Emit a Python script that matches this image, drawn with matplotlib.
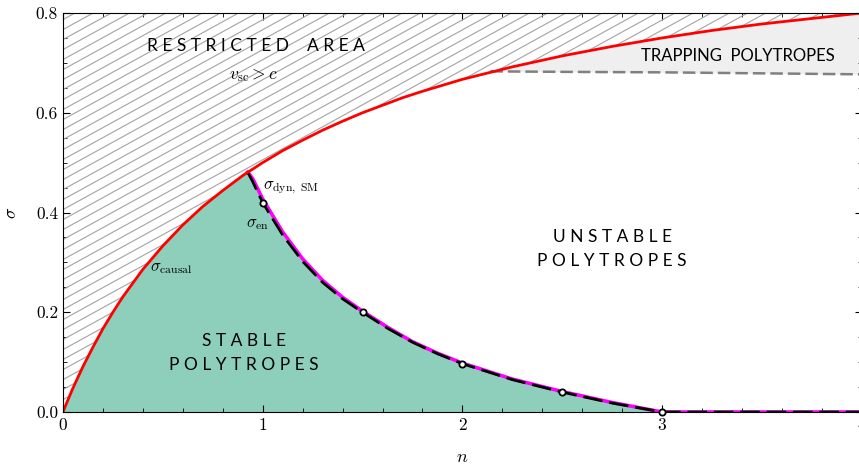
import matplotlib
matplotlib.use('Agg')
import matplotlib.pyplot as plt
from matplotlib.ticker import MultipleLocator, FormatStrFormatter
from matplotlib.patches import Polygon

# === Données
n_causal = [0, 0.02, 0.05, 0.1, 0.15, 0.2, 0.25, 0.3, 0.4, 0.5, 0.6, 0.7, 0.8, 0.9,
            1.0, 1.1, 1.2, 1.3, 1.4, 1.5, 1.6, 1.7, 1.8, 1.9, 2.0, 2.25, 2.5, 2.75,
            3.0, 3.25, 3.5, 3.75, 4.0]
sigma_causal = [0, 0.0196, 0.048, 0.091, 0.13, 0.167, 0.2, 0.231, 0.286, 0.333,
                0.375, 0.412, 0.444, 0.474, 0.5, 0.524, 0.545, 0.565, 0.583, 0.6,
                0.615, 0.63, 0.643, 0.655, 0.667, 0.692, 0.714, 0.733, 0.75, 0.765,
                0.778, 0.789, 0.8]

n_en = [0.925, 0.95, 1.0, 1.1, 1.2, 1.3, 1.4, 1.5, 1.625, 1.75, 1.875, 2.0, 2.25,
        2.5, 2.75, 3.0, 4.0]
sigma_en = [0.481, 0.462, 0.42, 0.355, 0.302, 0.26, 0.227, 0.2, 0.168, 0.14, 0.117,
            0.097, 0.065, 0.04, 0.018, 0.0, 0.0]
sigma_dyn = [0.481, 0.468, 0.427, 0.361, 0.307, 0.264, 0.23, 0.202, 0.170, 0.141,
             0.118, 0.098, 0.066, 0.041, 0.019, 0.0, 0.0]

n_points = [1.0, 1.5, 2.0, 2.5, 3.0]
sigma_points = [0.42, 0.2, 0.097, 0.04, 0.0]

n_trap = [2.14, 2.5, 3.0, 3.5, 4.0]
sigma_trap_low = [0.683, 0.682, 0.681, 0.679, 0.677]
sigma_trap_high = [0.681, 0.714, 0.75, 0.778, 0.8]

# zone stable : sous sigma_causal puis sous sigma_en
n_stable = n_causal[:14] + n_en[:-1]
sigma_stable = sigma_causal[:14] + sigma_en[:-1]

plt.rcParams['font.family'] = 'serif'
plt.rcParams['font.serif'] = ['cmr10']
plt.rcParams['mathtext.fontset'] = 'cm'
plt.rcParams['axes.formatter.use_mathtext'] = True

fig = plt.figure(figsize=(8.59, 4.69), dpi=100)
ax = fig.add_axes([0.0733, 0.1215, 0.930, 0.8508])

# === Zone interdite hachurée
zone = Polygon(list(zip(n_causal, sigma_causal)) + [(4, 0.8), (0, 0.8)],
               closed=True, facecolor='none', edgecolor='none')
ax.add_patch(zone)
pente = 0.55 * 799 / 399   # pente des hachures en coordonnées axes
k = -2.4
while k < 1.05:
    ligne, = ax.plot([0, 1], [k, k + pente], color='#a3a3a3', lw=0.8,
                     transform=ax.transAxes)
    ligne.set_clip_path(zone)
    k += 10 / 399

ax.fill_between(n_stable, sigma_stable, 0, color='#8dcfba', linewidth=0)
ax.fill_between(n_trap, sigma_trap_low, sigma_trap_high, color='#efefef', linewidth=0)

# === Courbes
ax.plot(n_trap, sigma_trap_low, color='#808080', lw=1.8, dashes=(5, 2))
ax.plot(n_en, sigma_dyn, color='magenta', lw=2.6)
ax.plot(n_en, sigma_en, color='black', lw=2.0, dashes=(7, 2.5))
ax.plot(n_causal, sigma_causal, color='red', lw=2.0)
ax.plot(n_points, sigma_points, 'o', ms=4.5, mfc='white', mec='black', mew=1.3,
        clip_on=False, zorder=5)

# === Textes
sans = 'Lato'
ax.text(0.965, 0.733, 'R E S T R I C T E D    A R E A', family=sans, fontsize=12.5,
        ha='center', va='center')
ax.text(0.955, 0.675, r'$v_{\rm sc} > c$', fontsize=12.5, ha='center', va='center')
ax.text(3.38, 0.713, 'TRAPPING  POLYTROPES', family=sans, fontsize=12,
        ha='center', va='center')
ax.text(2.75, 0.327, 'U N S T A B L E\nP O L Y T R O P E S', family=sans,
        fontsize=12.5, ha='center', va='center', linespacing=1.6)
ax.text(0.905, 0.118, 'S T A B L E\nP O L Y T R O P E S', family=sans,
        fontsize=12.5, ha='center', va='center', linespacing=1.6)
ax.text(0.435, 0.288, r'$\sigma_{\rm causal}$', fontsize=12, ha='left', va='center')
ax.text(0.915, 0.377, r'$\sigma_{\rm en}$', fontsize=12, ha='left', va='center')
ax.text(1.0, 0.449, r'$\sigma_{\rm dyn,\ SM}$', fontsize=12, ha='left', va='center')

# === Axes
ax.set_xlim(0, 4)
ax.set_ylim(0, 0.8)
ax.xaxis.set_major_locator(MultipleLocator(1))
ax.xaxis.set_minor_locator(MultipleLocator(0.2))
ax.yaxis.set_major_locator(MultipleLocator(0.2))
ax.yaxis.set_minor_locator(MultipleLocator(0.05))
ax.yaxis.set_major_formatter(FormatStrFormatter('%.1f'))
ax.tick_params(which='both', direction='in', top=True, right=True, labelsize=12.5)
ax.tick_params(which='major', length=5, width=0.8)
ax.tick_params(which='minor', length=3, width=0.6)
ax.set_xlabel(r'$n$', fontsize=13, labelpad=12)
ax.set_ylabel(r'$\sigma$', fontsize=13, labelpad=12)

plt.savefig('out.png', dpi=100)
